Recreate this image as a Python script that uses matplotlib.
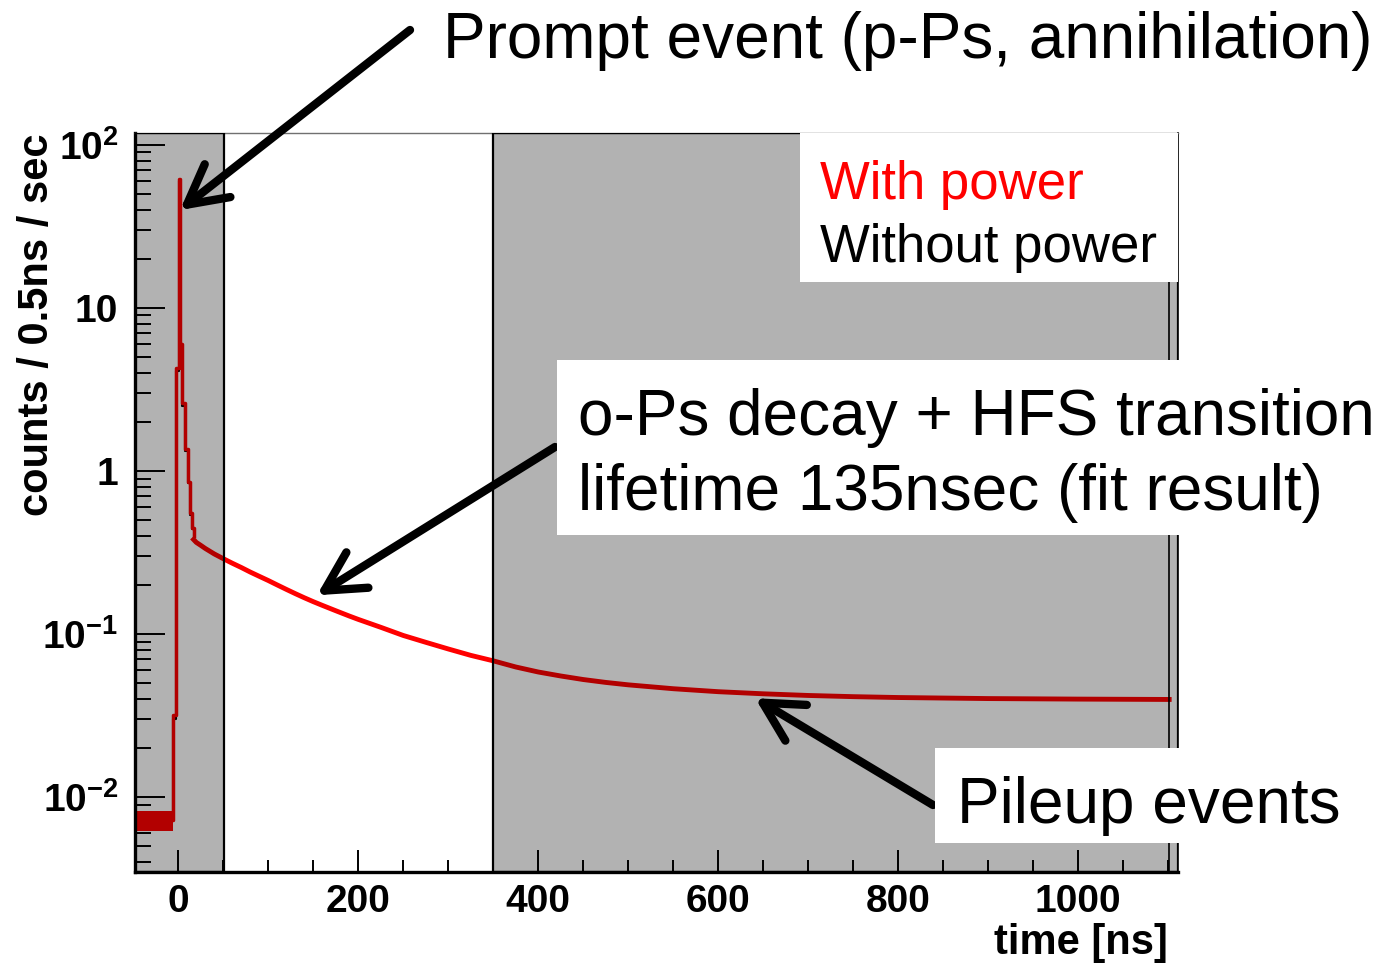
import matplotlib
matplotlib.use('Agg')
import matplotlib.pyplot as plt
from matplotlib.patches import Rectangle
from matplotlib.ticker import FixedLocator, FixedFormatter, LogLocator, MultipleLocator, NullFormatter

plt.rcParams['font.family'] = 'Liberation Sans'
plt.rcParams['font.weight'] = 'bold'
plt.rcParams['mathtext.fontset'] = 'custom'
plt.rcParams['mathtext.rm'] = 'Liberation Sans'
plt.rcParams['mathtext.bf'] = 'Liberation Sans:bold'

#------------------------------------------------------------------------
# prompt region, step histogram (left bin edges) [ns], counts / 0.5ns / sec
peak_t = [-48, -6, -2.6, 0.5, 2.0, 4.5, 7.5, 10.5, 13.0, 15.0, 17.0]
peak_with = [0.0072, 0.032, 4.3, 62, 6.0, 2.6, 1.37, 0.86, 0.55, 0.45, 0.40]
peak_without = [0.0080, 0.030, 4.1, 60, 5.8, 2.5, 1.33, 0.84, 0.54, 0.44, 0.39]
# baseline noise band before the prompt peak
base_t = [-48, -6]
base_lo = [0.0062, 0.0062]
base_hi = [0.0082, 0.0082]
# slow part (o-Ps decay + pileup)
decay_t = [17, 20, 25, 30, 40, 50, 60, 70, 80, 90, 100, 110, 120, 130, 140, 150,
           160, 175, 190, 200, 225, 250, 275, 300, 325, 350, 375, 400, 425, 450,
           475, 500, 550, 600, 650, 700, 750, 800, 900, 1000, 1101]
decay_with = [0.38, 0.365, 0.35, 0.335, 0.31, 0.29, 0.272, 0.256, 0.24, 0.226,
              0.213, 0.200, 0.188, 0.177, 0.167, 0.158, 0.150, 0.139, 0.129, 0.123,
              0.110, 0.098, 0.089, 0.081, 0.074, 0.0685, 0.0628, 0.0585, 0.0553, 0.0526,
              0.0505, 0.0488, 0.0462, 0.0443, 0.0430, 0.0420, 0.0413, 0.0408, 0.0402,
              0.0399, 0.0397]
decay_without = [0.38, 0.365, 0.35, 0.335, 0.31, 0.29, 0.272, 0.256, 0.24, 0.226,
                 0.213, 0.200, 0.188, 0.177, 0.167, 0.158, 0.150, 0.139, 0.129, 0.123,
                 0.110, 0.098, 0.089, 0.081, 0.074, 0.0683, 0.0625, 0.0582, 0.0550, 0.0523,
                 0.0503, 0.0486, 0.0460, 0.0441, 0.0428, 0.0419, 0.0412, 0.0407, 0.0401,
                 0.0398, 0.0396]
# shaded (excluded) regions
gate1 = (-48.1, 51)
gate2 = (350, 1110.8)

y_ticks = [0.01, 0.1, 1, 10, 100]
y_labels = [r'$\mathbf{10^{-2}}$', r'$\mathbf{10^{-1}}$', '1', '10', r'$\mathbf{10^{2}}$']
#------------------------------------------------------------------------
W, H = 1379., 964.
fig = plt.figure(figsize=(13.79, 9.64), dpi=100)
ax = fig.add_axes([135/W, 1-872/H, (1178-135)/W, (872-133)/H])

ax.plot(peak_t, peak_without, color='k', lw=1.5, drawstyle='steps-post', zorder=2)
ax.plot(decay_t, decay_without, color='k', lw=1.5, zorder=2)
ax.fill_between(base_t, base_lo, base_hi, color='#ff0000', lw=0, zorder=2.2)
ax.plot(peak_t, peak_with, color='#ff0000', lw=2.5, drawstyle='steps-post', zorder=2.3)
ax.plot(decay_t, decay_with, color='#ff0000', lw=3.5, zorder=2.3)

# grey boxes darken what lies under them
for g in (gate1, gate2):
    ax.axvspan(g[0], g[1], facecolor=(0, 0, 0, 0.3), edgecolor='k', lw=1.6, zorder=3)
ax.axvline(1101, color='k', lw=1.2, zorder=3)

ax.set_yscale('log')
ax.set_xlim(-48.1, 1110.8)
ax.set_ylim(0.00347, 118.5)

ax.xaxis.set_major_locator(FixedLocator([0, 200, 400, 600, 800, 1000]))
ax.xaxis.set_minor_locator(MultipleLocator(50))
ax.yaxis.set_major_locator(FixedLocator(y_ticks))
ax.yaxis.set_major_formatter(FixedFormatter(y_labels))
ax.yaxis.set_minor_locator(LogLocator(base=10, subs=range(2, 10)))
ax.yaxis.set_minor_formatter(NullFormatter())

ax.tick_params(axis='both', which='both', direction='in', width=1.4, top=False, right=False,
               labelsize=28, color='k')
ax.tick_params(axis='y', which='major', length=21.6, pad=12)
ax.tick_params(axis='y', which='minor', length=11.5)
ax.tick_params(axis='x', which='major', length=15.8, pad=9)
ax.tick_params(axis='x', which='minor', length=8.6)

ax.spines['left'].set_linewidth(2.4)
ax.spines['bottom'].set_linewidth(2.4)
ax.spines['top'].set_linewidth(1.0)
ax.spines['top'].set_color('#707070')
ax.spines['right'].set_linewidth(1.2)

fig.text(1168/W, 1-943/H, 'time [ns]', fontsize=30, ha='right', va='center')
fig.text(37/W, 1-133/H, 'counts / 0.5ns / sec', fontsize=30, rotation=90, ha='center', va='top')

# legend box
fig.patches.append(Rectangle((800/W, 1-282/H), (1178-800)/W, (282-133)/H,
                             transform=fig.transFigure, facecolor='white', edgecolor='none', zorder=1))
fig.text(820/W, 1-199/H, 'With power', color='#ff0000', fontsize=38, fontweight='normal', va='baseline')
fig.text(820/W, 1-262/H, 'Without power', color='k', fontsize=38, fontweight='normal', va='baseline')

# annotation boxes
fig.patches.append(Rectangle((557/W, 1-535/H), (1378-557)/W, (535-360)/H,
                             transform=fig.transFigure, facecolor='white', edgecolor='none', zorder=1))
fig.patches.append(Rectangle((935/W, 1-843/H), (1345-935)/W, (843-748)/H,
                             transform=fig.transFigure, facecolor='white', edgecolor='none', zorder=1))
fig.text(443/W, 1-58/H, 'Prompt event (p-Ps, annihilation)', fontsize=46, fontweight='normal', va='baseline')
fig.text(578/W, 1-435/H, 'o-Ps decay + HFS transition', fontsize=46, fontweight='normal', va='baseline')
fig.text(578/W, 1-510/H, 'lifetime 135nsec (fit result)', fontsize=46, fontweight='normal', va='baseline')
fig.text(957/W, 1-823/H, 'Pileup events', fontsize=46, fontweight='normal', va='baseline')

arrow = dict(arrowstyle='->,head_length=1.4,head_width=0.75', lw=6, color='k',
             shrinkA=0, shrinkB=0, mutation_scale=20, capstyle='round', joinstyle='round')
ax.annotate('', xy=(1.9, 39.9), xytext=(410/W, 1-30/H), textcoords='figure fraction',
            arrowprops=arrow, annotation_clip=False)
ax.annotate('', xy=(154, 0.173), xytext=(555/W, 1-447/H), textcoords='figure fraction',
            arrowprops=arrow, annotation_clip=False)
ax.annotate('', xy=(641, 0.0404), xytext=(933/W, 1-805/H), textcoords='figure fraction',
            arrowprops=arrow, annotation_clip=False)

fig.savefig('out.png', dpi=100)
